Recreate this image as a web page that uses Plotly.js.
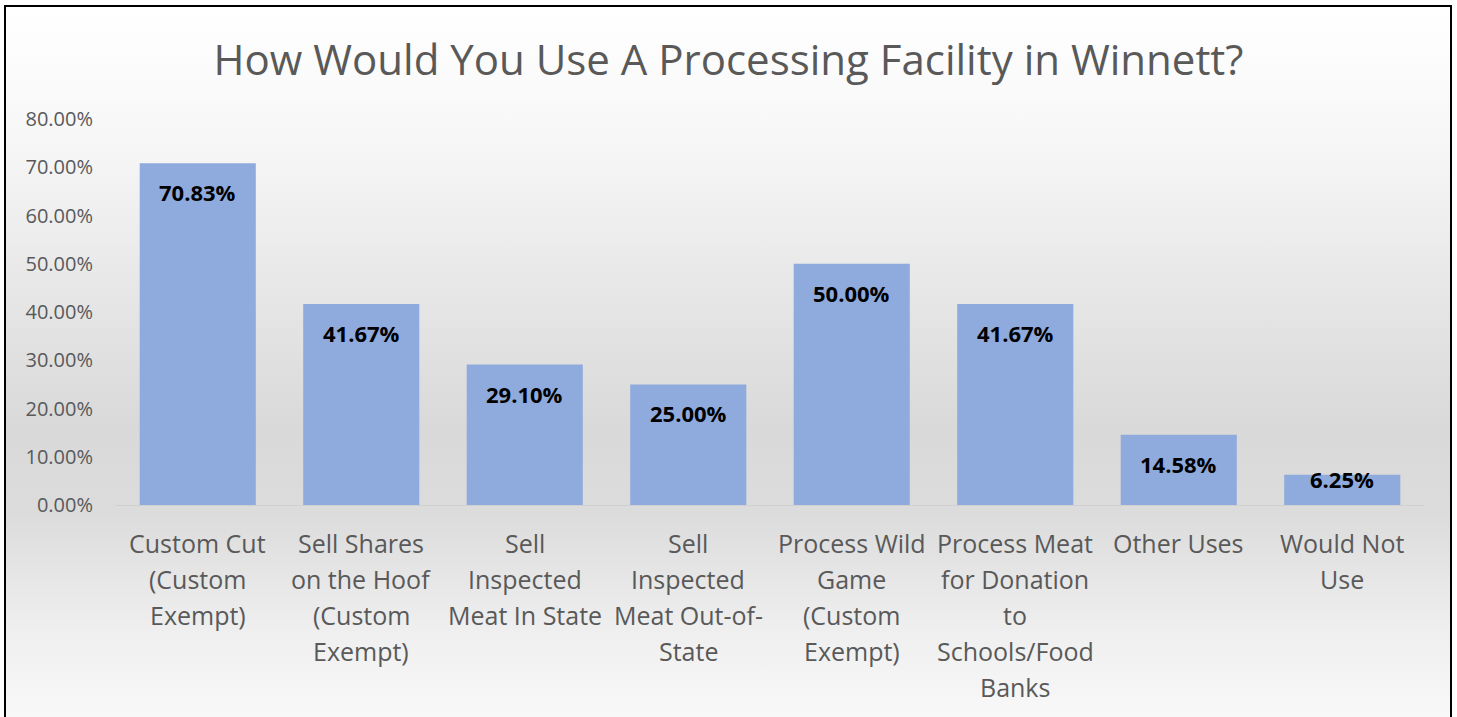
<!DOCTYPE html>
<html>
<head>
<meta charset="utf-8">
<script src="https://cdn.plot.ly/plotly-3.0.1.min.js"></script>
<style>
  html, body { margin: 0; padding: 0; width: 1457px; height: 717px; overflow: hidden; background: #ffffff; }
  #frame {
    position: absolute; left: 4px; top: 5px; width: 1448px; height: 730px;
    border: 2px solid #000; box-sizing: border-box;
    background: linear-gradient(to bottom, #ffffff 0%, #f7f7f7 18%, #e6e6e6 40%, #d9d9d9 58%, #dcdcdc 70%, #efefef 86%, #fafafa 100%);
  }
  #chart { position: absolute; left: 0; top: 0; width: 1457px; height: 717px; }
</style>
</head>
<body>
<div id="frame"></div>
<div id="chart"></div>
<script>
const categories = [
  "Custom Cut<br>(Custom<br>Exempt)",
  "Sell Shares<br>on the Hoof<br>(Custom<br>Exempt)",
  "Sell<br>Inspected<br>Meat In State",
  "Sell<br>Inspected<br>Meat Out-of-<br>State",
  "Process Wild<br>Game<br>(Custom<br>Exempt)",
  "Process Meat<br>for Donation<br>to<br>Schools/Food<br>Banks",
  "Other Uses",
  "Would Not<br>Use"
];
const values = [70.83, 41.67, 29.10, 25.00, 50.00, 41.67, 14.58, 6.25];
const valueLabels = ["70.83%", "41.67%", "29.10%", "25.00%", "50.00%", "41.67%", "14.58%", "6.25%"];
const titleText = "How Would You Use A Processing Facility in Winnett?";

const FONT = "Open Sans, Noto Sans, sans-serif";
const GREY = "#595959";

const annotations = [];
// value labels inside bars
values.forEach((v, i) => {
  const small = v < 10;
  annotations.push({
    x: i, y: v, xref: 'x', yref: 'y',
    text: '<b>' + valueLabels[i] + '</b>',
    showarrow: false,
    yanchor: 'middle',
    yshift: small ? -4 : -29,
    font: { family: FONT, size: 22, color: '#000000' }
  });
});
// category labels, one line per annotation for Excel-like line spacing
categories.forEach((c, i) => {
  c.split('<br>').forEach((line, j) => {
    annotations.push({
      x: i, y: 0, xref: 'x', yref: 'paper',
      text: line, showarrow: false,
      yanchor: 'middle', yshift: -38 - j * 36,
      font: { family: FONT, size: 25, color: GREY }
    });
  });
});

const trace = {
  type: 'bar',
  x: categories.map((c, i) => i),
  y: values,
  marker: { color: '#8faadc' },
  hoverinfo: 'skip'
};

const layout = {
  width: 1457, height: 717,
  paper_bgcolor: 'rgba(0,0,0,0)',
  plot_bgcolor: 'rgba(0,0,0,0)',
  margin: { l: 116, r: 33, t: 119, b: 212 },
  bargap: 0.29,
  showlegend: false,
  title: {
    text: titleText,
    x: 0.5, xref: 'container', xanchor: 'center',
    y: 1 - 60 / 717, yref: 'container', yanchor: 'middle',
    font: { family: FONT, size: 42, color: GREY }
  },
  xaxis: {
    range: [-0.5, 7.5],
    showticklabels: false, ticks: '',
    showgrid: false, zeroline: false,
    showline: true, linecolor: '#d0d0d0', linewidth: 1
  },
  yaxis: {
    range: [0, 80], dtick: 10, tick0: 0,
    tickformat: '.2f', ticksuffix: '%',
    showgrid: false, zeroline: false, showline: false,
    ticks: '', ticklabelstandoff: 22,
    tickfont: { family: FONT, size: 20, color: GREY }
  },
  annotations: annotations
};

Plotly.newPlot('chart', [trace], layout, { staticPlot: true, displayModeBar: false });
</script>
</body>
</html>
